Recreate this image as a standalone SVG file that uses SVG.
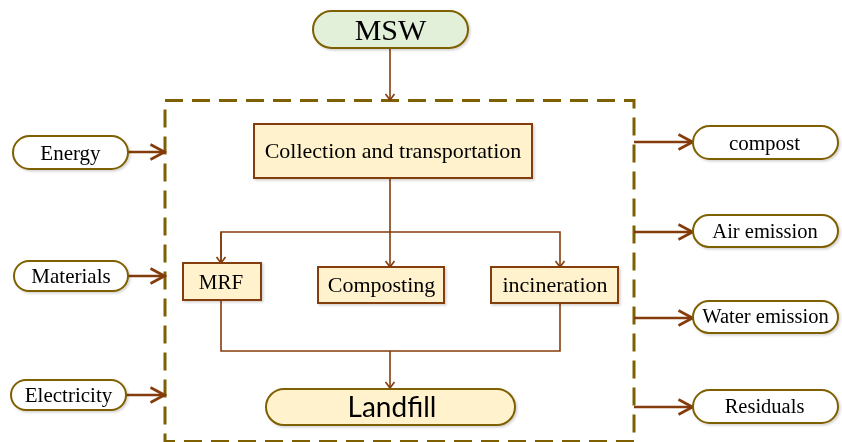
<svg xmlns="http://www.w3.org/2000/svg" width="842" height="442" viewBox="0 0 842 442">
<style>
.term{fill:#fff;stroke:#7f6000;stroke-width:2}
.green{fill:#e2efd9}
.cream{fill:#fff2cc}
.proc{fill:#fff2cc;stroke:#843c0c;stroke-width:2}
.t{font-family:"Liberation Serif","Times New Roman",serif;fill:#000;text-anchor:middle}
.c{fill:none;stroke:#843c0c;stroke-width:1.6}
.ext{fill:none;stroke:#843c0c;stroke-width:2.6}
</style>
<defs>
<filter id="sh" x="-10%" y="-20%" width="130%" height="150%">
<feDropShadow dx="1.5" dy="1.5" stdDeviation="1.2" flood-color="#000" flood-opacity="0.18"/>
</filter>
<marker id="a" markerUnits="userSpaceOnUse" viewBox="0 0 12 12" refX="11" refY="6" markerWidth="12" markerHeight="12" orient="auto">
<path d="M5,1.5 L11,6 L5,10.5" fill="none" stroke="#843c0c" stroke-width="1.6"/>
</marker>
<marker id="b" markerUnits="userSpaceOnUse" viewBox="0 0 20 20" refX="18.5" refY="10" markerWidth="20" markerHeight="20" orient="auto">
<path d="M4,2.5 L18,10 L4,17.5" fill="none" stroke="#843c0c" stroke-width="2.6"/>
</marker>
</defs>

<rect id="boundary" x="165" y="100.5" width="469" height="341" fill="none" stroke="#7f6000" stroke-width="3" stroke-dasharray="18 9"/>

<g id="connectors">
<line class="c" x1="390" y1="48" x2="390" y2="100" marker-end="url(#a)"/>
<line class="c" x1="390" y1="178" x2="390" y2="232"/>
<polyline class="c" points="221,263 221,232 560,232 560,267" marker-end="url(#a)"/>
<line class="c" x1="390" y1="232" x2="390" y2="267" marker-end="url(#a)"/>
<line class="c" x1="221" y1="232" x2="221" y2="263" marker-end="url(#a)"/>
<polyline class="c" points="221,300 221,351 560,351 560,303"/>
<line class="c" x1="390" y1="351" x2="390" y2="388" marker-end="url(#a)"/>
<line class="ext" x1="128" y1="152" x2="165" y2="152" marker-end="url(#b)"/>
<line class="ext" x1="128" y1="276" x2="165" y2="276" marker-end="url(#b)"/>
<line class="ext" x1="126" y1="395" x2="165" y2="395" marker-end="url(#b)"/>
<line class="ext" x1="634" y1="142" x2="693" y2="142" marker-end="url(#b)"/>
<line class="ext" x1="634" y1="232" x2="693" y2="232" marker-end="url(#b)"/>
<line class="ext" x1="634" y1="318" x2="693" y2="318" marker-end="url(#b)"/>
<line class="ext" x1="634" y1="407" x2="693" y2="407" marker-end="url(#b)"/>
</g>

<g id="msw" filter="url(#sh)">
<rect class="term green" x="313" y="11" width="155" height="37" rx="18.5"/>
<text class="t" x="390.5" y="40" font-size="30">MSW</text>
</g>

<g id="collection" filter="url(#sh)">
<rect class="proc" x="254" y="124" width="278" height="54"/>
<text class="t" x="393" y="158" font-size="22">Collection and transportation</text>
</g>

<g id="mrf" filter="url(#sh)">
<rect class="proc" x="183" y="263" width="78" height="37"/>
<text class="t" x="221" y="289" font-size="21">MRF</text>
</g>

<g id="composting" filter="url(#sh)">
<rect class="proc" x="318" y="267" width="126" height="36"/>
<text class="t" x="381.5" y="292" font-size="22">Composting</text>
</g>

<g id="incineration" filter="url(#sh)">
<rect class="proc" x="491" y="267" width="127" height="36"/>
<text class="t" x="555" y="292" font-size="22">incineration</text>
</g>

<g id="landfill" filter="url(#sh)">
<rect class="term cream" x="266" y="389" width="249" height="36" rx="18"/>
<text x="392" y="417" font-size="28" text-anchor="middle" font-family="Lato,'Open Sans',sans-serif" fill="#000">Landfill</text>
</g>

<g id="energy" filter="url(#sh)">
<rect class="term" x="13" y="136" width="115" height="33" rx="16.5"/>
<text class="t" x="70.5" y="160" font-size="21">Energy</text>
</g>

<g id="materials" filter="url(#sh)">
<rect class="term" x="14" y="261" width="114" height="30" rx="15"/>
<text class="t" x="71" y="283" font-size="21">Materials</text>
</g>

<g id="electricity" filter="url(#sh)">
<rect class="term" x="11" y="380" width="115" height="30" rx="15"/>
<text class="t" x="68.5" y="402" font-size="21">Electricity</text>
</g>

<g id="compost" filter="url(#sh)">
<rect class="term" x="693" y="126" width="145" height="33" rx="16.5"/>
<text class="t" x="764.5" y="150" font-size="21">compost</text>
</g>

<g id="air" filter="url(#sh)">
<rect class="term" x="693" y="215" width="145" height="32" rx="16"/>
<text class="t" x="765" y="238" font-size="20.5">Air emission</text>
</g>

<g id="water" filter="url(#sh)">
<rect class="term" x="693" y="301" width="145" height="32" rx="16"/>
<text class="t" x="765.5" y="323" font-size="20.5">Water emission</text>
</g>

<g id="residuals" filter="url(#sh)">
<rect class="term" x="693" y="390" width="145" height="33" rx="16.5"/>
<text class="t" x="764.5" y="413" font-size="20.5">Residuals</text>
</g>
</svg>
